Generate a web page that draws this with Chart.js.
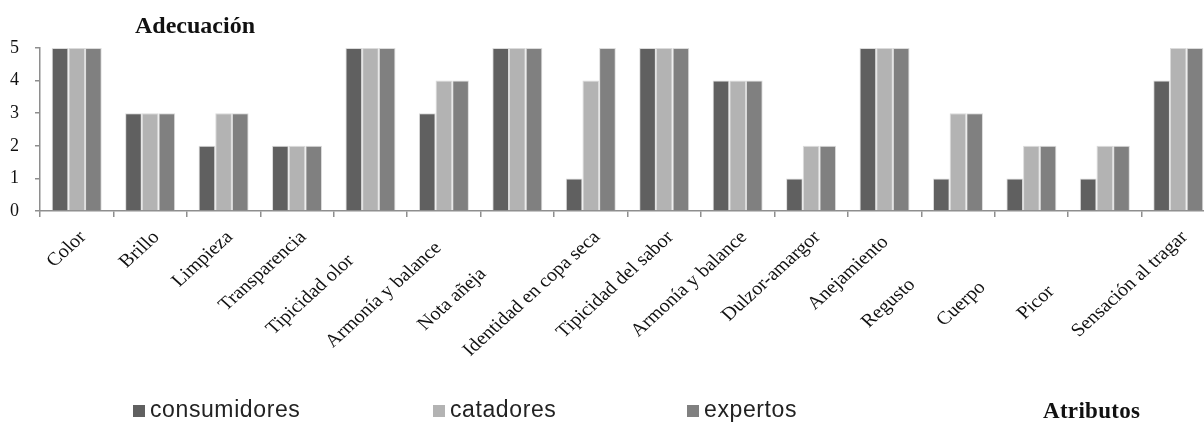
<!DOCTYPE html>
<html lang="es">
<head>
<meta charset="utf-8">
<title>Adecuación por atributo</title>
<script src="https://cdn.jsdelivr.net/npm/chart.js@4/dist/chart.umd.min.js"></script>
<style>
  html, body { margin: 0; padding: 0; background: #fff; overflow: hidden; }
  #wrap { position: relative; width: 1215px; height: 423px; }
</style>
</head>
<body>
<div id="wrap"><canvas id="chart"></canvas></div>
<script>
// Atributos evaluados
const categories = [
  'Color', 'Brillo', 'Limpieza', 'Transparencia', 'Tipicidad olor',
  'Armonía y balance', 'Nota añeja', 'Identidad en copa seca',
  'Tipicidad del sabor', 'Armonía y balance', 'Dulzor-amargor',
  'Anejamiento', 'Regusto', 'Cuerpo', 'Picor', 'Sensación al tragar'
];

// Adecuación por grupo de evaluadores
const consumidores = [5, 3, 2, 2, 5, 3, 5, 1, 5, 4, 1, 5, 1, 1, 1, 4];
const catadores    = [5, 3, 3, 2, 5, 4, 5, 4, 5, 4, 2, 5, 3, 2, 2, 5];
const expertos     = [5, 3, 3, 2, 5, 4, 5, 5, 5, 4, 2, 5, 3, 2, 2, 5];

const seriesNames = ['consumidores', 'catadores', 'expertos'];
const yTicks = [0, 1, 2, 3, 4, 5];

const chartTitle = 'Adecuación';
const xAxisTitle = 'Atributos';

const colors = ['#606060', '#b3b3b3', '#808080'];
const axisColor = '#8e8e8e';
const serif = '"Liberation Serif", "Times New Roman", serif';

// Desplazamiento (px, a lo largo del texto) de cada etiqueta de categoría
const labelSlide = [0, 0, 0, 0, 33, 15, 52, 0, 0, 0, 0, 7, 67, 71, 77, 0];

// Etiquetas de categoría inclinadas, ancladas al centro de cada categoría
const categoryLabels = {
  id: 'categoryLabels',
  afterDraw(chart) {
    const ctx = chart.ctx;
    const xs = chart.scales.x;
    const y0 = xs.top + 27;
    ctx.save();
    ctx.fillStyle = '#111';
    ctx.font = '18.5px ' + serif;
    ctx.textAlign = 'right';
    ctx.textBaseline = 'alphabetic';
    chart.data.labels.forEach((label, i) => {
      const x = xs.getPixelForTick(i) + 10;
      ctx.save();
      ctx.translate(x, y0);
      ctx.scale(1.1, 1);
      ctx.rotate(-Math.PI / 4);
      ctx.fillText(label, -labelSlide[i], 0);
      ctx.restore();
    });
    ctx.restore();
  }
};

// Títulos y leyenda dibujados sobre el lienzo
const annotations = {
  id: 'annotations',
  afterDraw(chart) {
    const ctx = chart.ctx;
    ctx.save();
    ctx.fillStyle = '#111';
    ctx.textBaseline = 'alphabetic';
    ctx.textAlign = 'left';
    ctx.font = 'bold 24px ' + serif;
    ctx.fillText(chartTitle, 135, 33);
    ctx.font = 'bold 23px ' + serif;
    ctx.letterSpacing = '0.3px';
    ctx.fillText(xAxisTitle, 1043, 418);

    const legendX = [133, 433, 687];
    ctx.font = '23px "Liberation Sans", Arial, sans-serif';
    ctx.letterSpacing = '0.6px';
    chart.data.datasets.forEach((ds, i) => {
      const x = legendX[i];
      ctx.fillStyle = ds.backgroundColor;
      ctx.fillRect(x, 405, 12, 12);
      ctx.fillStyle = '#222';
      ctx.fillText(ds.label, x + 17, 417);
    });
    ctx.restore();
  }
};

const datasets = [consumidores, catadores, expertos].map((values, i) => ({
  label: seriesNames[i],
  data: values,
  backgroundColor: colors[i],
  borderColor: 'rgba(215,215,215,0.9)',
  borderWidth: 1,
  borderSkipped: 'bottom',
  categoryPercentage: 0.681,
  barPercentage: 1.0
}));

new Chart(document.getElementById('chart'), {
  type: 'bar',
  data: { labels: categories, datasets },
  options: {
    responsive: true,
    maintainAspectRatio: false,
    animation: false,
    layout: { padding: { top: 48, left: 0, right: 0, bottom: 0 } },
    plugins: {
      legend: { display: false },
      title: { display: false },
      tooltip: { enabled: false }
    },
    scales: {
      x: {
        offset: true,
        grid: {
          offset: true,
          drawOnChartArea: false,
          drawTicks: true,
          tickLength: 6,
          color: axisColor,
          lineWidth: 1.5
        },
        border: { display: true, color: axisColor, width: 1.5 },
        ticks: { display: false, autoSkip: false },
        afterFit(scale) { scale.height = 212; }
      },
      y: {
        min: 0,
        max: 5,
        afterBuildTicks(scale) { scale.ticks = yTicks.map(v => ({ value: v })); },
        grid: {
          drawOnChartArea: false,
          drawTicks: true,
          tickLength: 5,
          color: axisColor,
          lineWidth: 1.5
        },
        border: { display: true, color: axisColor, width: 1.5 },
        ticks: {
          padding: 16,
          color: '#111',
          font: { family: serif, size: 18 }
        },
        afterFit(scale) { scale.width = 40; }
      }
    }
  },
  plugins: [categoryLabels, annotations]
});
</script>
</body>
</html>
